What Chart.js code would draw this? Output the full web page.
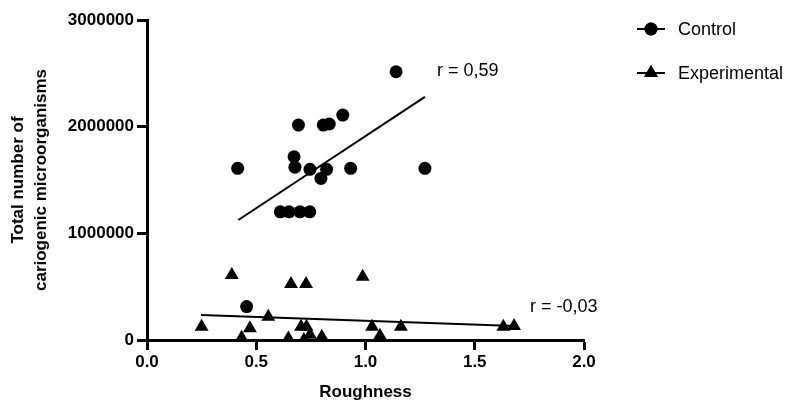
<!DOCTYPE html>
<html>
<head>
<meta charset="utf-8">
<script src="https://cdn.jsdelivr.net/npm/chart.js@4"></script>
<style>
  html, body { margin: 0; padding: 0; background: #fff; }
  #wrap { width: 787px; height: 403px; }
</style>
</head>
<body>
<div id="wrap"><canvas id="my-chart" width="787" height="403"></canvas></div>
<script>
'use strict';

// ***** DATA *****

let controlX = [0.415, 0.673, 0.677, 0.746, 0.822, 0.796, 0.932, 1.272, 0.693, 0.807, 0.834, 0.896, 1.14, 0.61, 0.65, 0.70, 0.745, 0.456];
let controlY = [1609000, 1718000, 1620000, 1600000, 1600000, 1515000, 1609000, 1609000, 2015000, 2015000, 2025000, 2109000, 2515000, 1202000, 1202000, 1202000, 1202000, 313000];

let expX = [0.388, 0.659, 0.728, 0.987, 0.25, 0.471, 0.555, 0.433, 0.647, 0.705, 0.73, 0.746, 0.718, 0.80, 1.03, 1.066, 1.162, 1.631, 1.68];
let expY = [609000, 525000, 525000, 593000, 125000, 110000, 218000, 20000, 15000, 125000, 125000, 50000, 0, 30000, 125000, 40000, 125000, 125000, 131000];

let controlFitX = [0.418, 1.272];
let controlFitY = [1125000, 2280000];
let expFitX = [0.247, 1.684];
let expFitY = [234000, 131000];

let seriesNames = ['Control', 'Experimental'];
let rLabels = ['r = 0,59', 'r = -0,03'];
let rLabelX = [1.327, 1.753];
let rLabelY = [2525000, 310000];

let yTicks = [0, 1000000, 2000000, 3000000];
let xTicks = [0, 0.5, 1.0, 1.5, 2.0];

// ***** HELPERS *****

function toPoints(xs, ys) {
    let pts = [];
    for (let i = 0; i < xs.length; i++) {
        pts.push({ x: xs[i], y: ys[i] });
    }
    return pts;
}

let ctx = document.getElementById('my-chart');
let fam = '"Liberation Sans", Arial, sans-serif';

// annotations + legend drawn on the canvas
let extrasPlugin = {
    id: 'extras',
    afterDraw(chart) {
        let c = chart.ctx;
        let xs = chart.scales.x;
        let ys = chart.scales.y;
        c.save();
        c.fillStyle = '#000';
        c.font = '18px ' + fam;
        c.textBaseline = 'middle';
        c.textAlign = 'left';
        for (let i = 0; i < rLabels.length; i++) {
            c.fillText(rLabels[i], xs.getPixelForValue(rLabelX[i]), ys.getPixelForValue(rLabelY[i]));
        }

        // legend
        let styles = ['circle', 'triangle'];
        let rowY = [29, 73];
        for (let i = 0; i < seriesNames.length; i++) {
            c.strokeStyle = '#000';
            c.lineWidth = 2;
            c.beginPath();
            c.moveTo(637, rowY[i]);
            c.lineTo(665, rowY[i]);
            c.stroke();
            Chart.helpers.drawPoint(c, { pointStyle: styles[i], radius: styles[i] === 'circle' ? 6.5 : 8, borderWidth: 0 }, 651, rowY[i]);
            c.fill();
            c.fillText(seriesNames[i], 678, rowY[i] + 1);
        }
        c.restore();
    }
};

let tickFont = { family: fam, size: 17, weight: 'bold' };

let chartObj = {
    type: 'scatter',
    data: {
        datasets: [
            {
                label: seriesNames[0],
                data: toPoints(controlX, controlY),
                pointStyle: 'circle',
                pointRadius: 6.5,
                pointBorderWidth: 0,
                backgroundColor: '#000',
                borderColor: '#000'
            },
            {
                label: seriesNames[1],
                data: toPoints(expX, expY),
                pointStyle: 'triangle',
                pointRadius: 8,
                pointBorderWidth: 0,
                backgroundColor: '#000',
                borderColor: '#000'
            },
            {
                label: 'fit1',
                data: toPoints(controlFitX, controlFitY),
                showLine: true,
                pointRadius: 0,
                borderWidth: 2,
                borderColor: '#000'
            },
            {
                label: 'fit2',
                data: toPoints(expFitX, expFitY),
                showLine: true,
                pointRadius: 0,
                borderWidth: 2,
                borderColor: '#000'
            }
        ]
    },
    options: {
        responsive: false,
        animation: false,
        layout: { padding: { top: 20, right: 203, left: 0, bottom: 0 } },
        plugins: {
            legend: { display: false },
            tooltip: { enabled: false }
        },
        scales: {
            x: {
                type: 'linear',
                min: 0,
                max: 2,
                afterBuildTicks(scale) {
                    scale.ticks = xTicks.map(v => ({ value: v }));
                },
                afterFit(scale) { scale.height = 63; },
                grid: { drawOnChartArea: false, tickLength: 10, tickWidth: 3, tickColor: '#000' },
                border: { color: '#000', width: 3 },
                ticks: {
                    color: '#000',
                    font: tickFont,
                    padding: 2,
                    callback: v => Number(v).toFixed(1)
                },
                title: {
                    display: true,
                    text: 'Roughness',
                    color: '#000',
                    font: { family: fam, size: 17, weight: 'bold' },
                    padding: { top: 4, bottom: 0 }
                }
            },
            y: {
                type: 'linear',
                min: 0,
                max: 3000000,
                afterBuildTicks(scale) {
                    scale.ticks = yTicks.map(v => ({ value: v }));
                },
                afterFit(scale) { scale.width = 147; },
                grid: { drawOnChartArea: false, tickLength: 10, tickWidth: 3, tickColor: '#000' },
                border: { color: '#000', width: 3 },
                ticks: {
                    color: '#000',
                    font: tickFont,
                    padding: 3,
                    callback: v => String(v)
                },
                title: {
                    display: true,
                    text: ['Total number of', 'cariogenic microorganisms'],
                    color: '#000',
                    font: { family: fam, size: 17, weight: 'bold', lineHeight: 1.4 },
                    padding: { top: 6, bottom: 0 }
                }
            }
        }
    },
    plugins: [extrasPlugin]
};

new Chart(ctx, chartObj);
</script>
</body>
</html>
